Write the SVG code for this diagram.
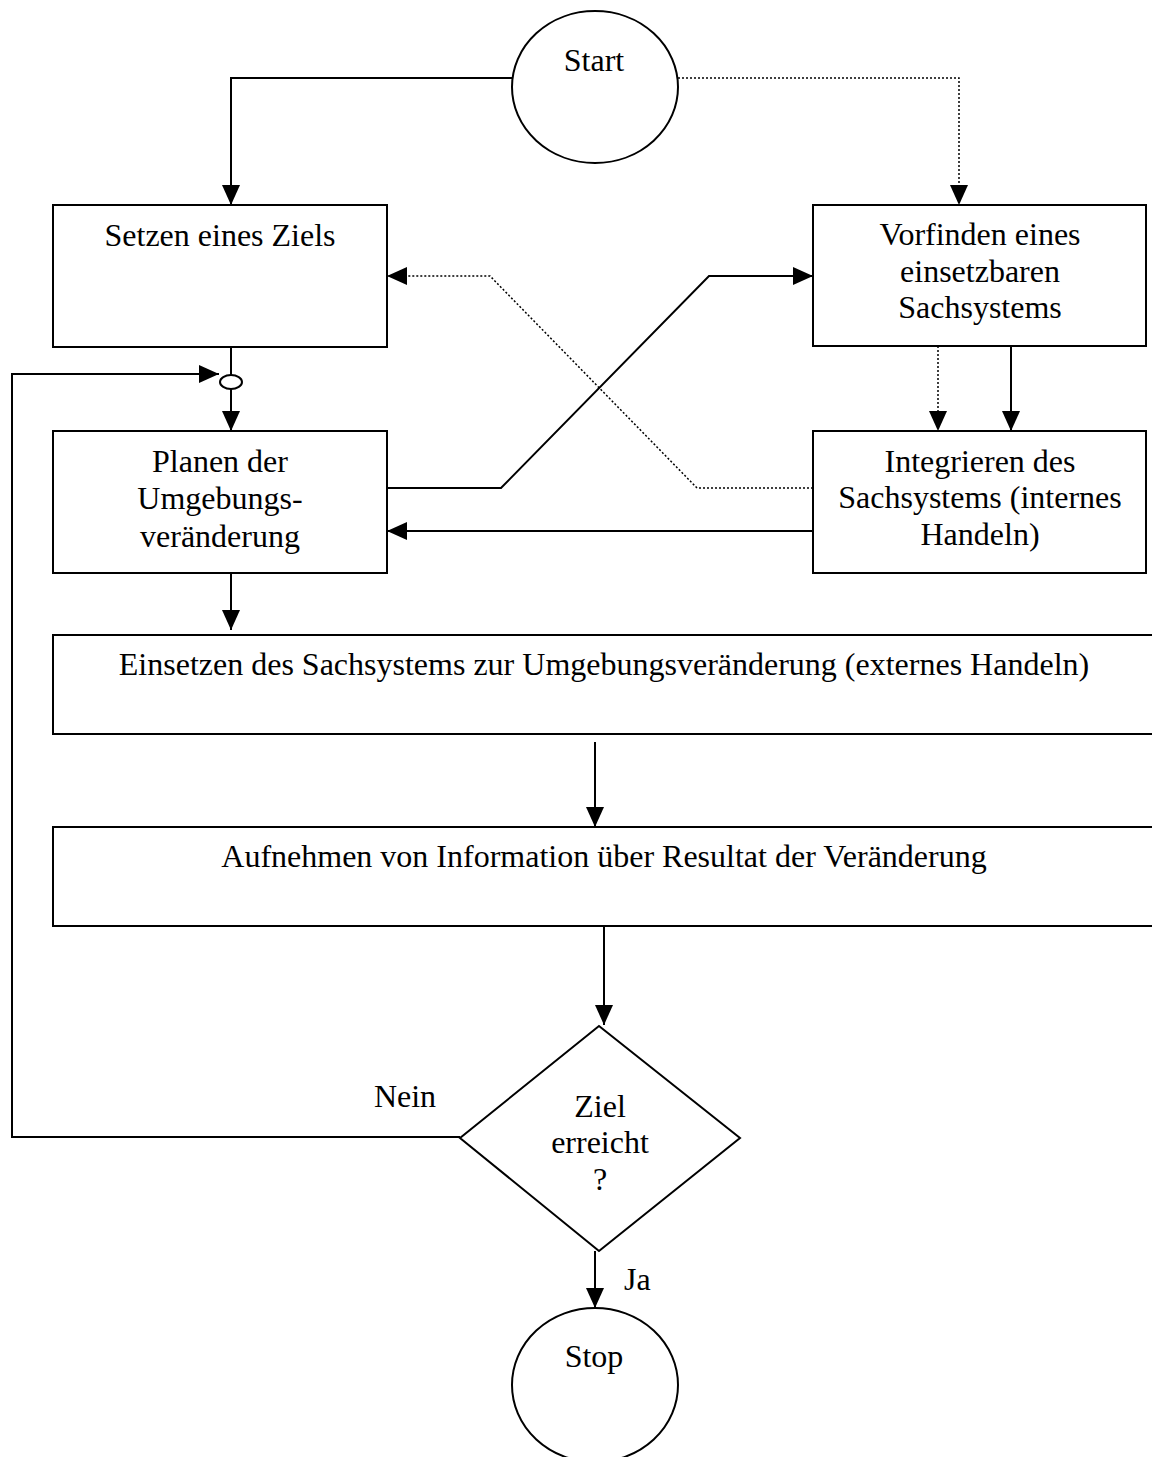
<svg xmlns="http://www.w3.org/2000/svg" width="1152" height="1457" viewBox="0 0 1152 1457">
  <style>
    .box { fill: #fff; stroke: #000; stroke-width: 2; }
    .lbl { font-family: "Liberation Serif", "Times New Roman", serif; font-size: 32px; fill: #000; text-anchor: middle; }
    .solid { fill: none; stroke: #000; stroke-width: 2; }
    .dot { fill: none; stroke: #000; stroke-width: 1.5; stroke-dasharray: 2 2; }
  </style>
  <defs>
    <marker id="arrow" markerUnits="userSpaceOnUse" markerWidth="20" markerHeight="18" refX="20" refY="9" orient="auto" viewBox="0 0 20 18">
      <path d="M0,0 L20,9 L0,18 Z" fill="#000" stroke="none"/>
    </marker>
  </defs>
  <rect width="1152" height="1457" fill="#fff"/>

  <g id="connectors">
    <!-- Start to Setzen eines Ziels -->
    <polyline class="solid" points="512,78 231,78 231,205" marker-end="url(#arrow)"/>
    <!-- Start to Vorfinden (dotted) -->
    <polyline class="dot" points="678,78 959,78 959,205" marker-end="url(#arrow)"/>
    <!-- Setzen to junction -->
    <line class="solid" x1="231" y1="347" x2="231" y2="375"/>
    <!-- junction to Planen -->
    <line class="solid" x1="231" y1="389" x2="231" y2="431" marker-end="url(#arrow)"/>
    <!-- Vorfinden to Integrieren -->
    <line class="dot" x1="938" y1="346" x2="938" y2="431" marker-end="url(#arrow)"/>
    <line class="solid" x1="1011" y1="346" x2="1011" y2="431" marker-end="url(#arrow)"/>
    <!-- Integrieren to Setzen (dotted) -->
    <polyline class="dot" points="813,488 697,488 490,276 387,276" marker-end="url(#arrow)"/>
    <!-- Planen to Vorfinden -->
    <polyline class="solid" points="387,488 501,488 709,276 813,276" marker-end="url(#arrow)"/>
    <!-- Integrieren to Planen -->
    <line class="solid" x1="813" y1="531" x2="387" y2="531" marker-end="url(#arrow)"/>
    <!-- Planen to Einsetzen -->
    <line class="solid" x1="231" y1="573" x2="231" y2="630" marker-end="url(#arrow)"/>
    <!-- Einsetzen to Aufnehmen -->
    <line class="solid" x1="595" y1="742" x2="595" y2="827" marker-end="url(#arrow)"/>
    <!-- Aufnehmen to decision -->
    <line class="solid" x1="604" y1="926" x2="604" y2="1025" marker-end="url(#arrow)"/>
    <!-- Nein loop back to junction -->
    <polyline class="solid" points="460,1137 12,1137 12,374 219,374" marker-end="url(#arrow)"/>
    <!-- Ja to Stop -->
    <line class="solid" x1="595" y1="1251" x2="595" y2="1308" marker-end="url(#arrow)"/>
    <text class="lbl" x="405" y="1107">Nein</text>
    <text class="lbl" x="624" y="1290" style="text-anchor:start">Ja</text>
  </g>

  <g id="start">
    <ellipse class="box" cx="595" cy="87" rx="83" ry="76"/>
    <text class="lbl" x="594" y="71">Start</text>
  </g>

  <g id="junction">
    <ellipse class="box" cx="231" cy="382" rx="11" ry="7"/>
  </g>

  <g id="setzen">
    <rect class="box" x="53" y="205" width="334" height="142"/>
    <text class="lbl" x="220" y="246">Setzen eines Ziels</text>
  </g>

  <g id="vorfinden">
    <rect class="box" x="813" y="205" width="333" height="141"/>
    <text class="lbl" x="980" y="245">Vorfinden eines</text>
    <text class="lbl" x="980" y="282">einsetzbaren</text>
    <text class="lbl" x="980" y="318">Sachsystems</text>
  </g>

  <g id="planen">
    <rect class="box" x="53" y="431" width="334" height="142"/>
    <text class="lbl" x="220" y="472">Planen der</text>
    <text class="lbl" x="220" y="509">Umgebungs-</text>
    <text class="lbl" x="220" y="547">veränderung</text>
  </g>

  <g id="integrieren">
    <rect class="box" x="813" y="431" width="333" height="142"/>
    <text class="lbl" x="980" y="472">Integrieren des</text>
    <text class="lbl" x="980" y="508">Sachsystems (internes</text>
    <text class="lbl" x="980" y="545">Handeln)</text>
  </g>

  <g id="einsetzen">
    <rect class="box" x="53" y="635" width="1110" height="99"/>
    <text class="lbl" x="604" y="675">Einsetzen des Sachsystems zur Umgebungsveränderung (externes Handeln)</text>
  </g>

  <g id="aufnehmen">
    <rect class="box" x="53" y="827" width="1110" height="99"/>
    <text class="lbl" x="604" y="867">Aufnehmen von Information über Resultat der Veränderung</text>
  </g>

  <g id="decision">
    <polygon class="box" points="599,1026 740,1138 599,1251 460,1138"/>
    <text class="lbl" x="600" y="1117">Ziel</text>
    <text class="lbl" x="600" y="1153">erreicht</text>
    <text class="lbl" x="600" y="1190">?</text>
  </g>

  <g id="stop">
    <ellipse class="box" cx="595" cy="1385" rx="83" ry="77"/>
    <text class="lbl" x="594" y="1367">Stop</text>
  </g>
</svg>
